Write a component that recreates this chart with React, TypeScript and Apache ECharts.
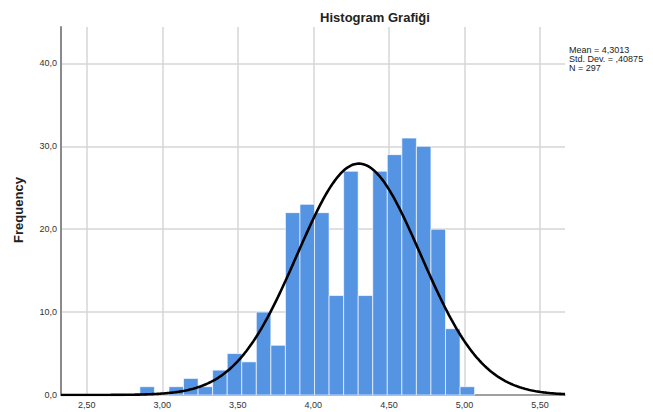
import React, { useEffect, useRef } from "react";
import * as echarts from "echarts";

// Histogram bins
const binStart = 2.852;
const binWidth = 0.0963;
const binCounts = [1, 0, 1, 2, 1, 3, 5, 4, 10, 6, 22, 23, 22, 12, 27, 12, 27, 29, 31, 30, 20, 8, 1];

// Summary statistics shown on the chart
const meanValue = 4.3013;
const stdDev = 0.40875;
const nValue = 297;

// Axis ticks
const xTicks = [2.5, 3.0, 3.5, 4.0, 4.5, 5.0, 5.5];
const yTicks = [0, 10, 20, 30, 40];
const xMin = 2.33;
const xMax = 5.665;
const yMax = 44.4;

const statLines = ["Mean = 4,3013", "Std. Dev. = ,40875", "N = 297"];

const FONT = "'Liberation Sans', Arial, sans-serif";

export default function App() {
  const ref = useRef<HTMLDivElement>(null);
  useEffect(() => {
    document.body.style.margin = "0";
    if (!ref.current) return;
    const chart = echarts.init(ref.current, null, { renderer: "svg" });

    const bars = binCounts.map((c, i) => [
      binStart + i * binWidth,
      binStart + (i + 1) * binWidth,
      c,
    ]);

    // Fitted normal curve from the stated mean, std. dev. and N
    const curve: number[][] = [];
    const scale = nValue * binWidth;
    for (let k = 0; k <= 400; k++) {
      const x = xMin + ((xMax - xMin) * k) / 400;
      const z = (x - meanValue) / stdDev;
      const y = (scale / (stdDev * Math.sqrt(2 * Math.PI))) * Math.exp(-0.5 * z * z);
      curve.push([x, y]);
    }

    chart.setOption({
      animation: false,
      grid: { left: 61, right: 88, top: 27, bottom: 17, containLabel: false },
      xAxis: {
        type: "value",
        min: xMin,
        max: xMax,
        axisLine: { show: true, onZero: false, lineStyle: { color: "#8a8a8a", width: 1.5 } },
        axisTick: { show: false, customValues: xTicks },
        axisLabel: {
          customValues: xTicks,
          formatter: (v: number) => v.toFixed(2).replace(".", ","),
          color: "#333",
          fontSize: 9,
          fontFamily: FONT,
          margin: 5,
        },
        splitLine: { show: true, lineStyle: { color: "#d6d6d6", width: 1.5 } },
      },
      yAxis: {
        type: "value",
        min: 0,
        max: yMax,
        axisLine: { show: true, lineStyle: { color: "#8a8a8a", width: 2 } },
        axisTick: { show: false, customValues: yTicks },
        axisLabel: {
          customValues: yTicks,
          formatter: (v: number) => v.toFixed(1).replace(".", ","),
          color: "#333",
          fontSize: 9,
          fontFamily: FONT,
          margin: 4,
        },
        splitLine: { show: true, lineStyle: { color: "#d6d6d6", width: 1.5 } },
      },
      series: [
        {
          type: "custom",
          data: bars,
          encode: { x: [0, 1], y: 2 },
          z: 2,
          renderItem: (params: any, api: any) => {
            const x0 = api.value(0);
            const x1 = api.value(1);
            const c = api.value(2);
            const p0 = api.coord([x0, c]);
            const p1 = api.coord([x1, 0]);
            return {
              type: "rect",
              shape: { x: p0[0], y: p0[1], width: p1[0] - p0[0], height: p1[1] - p0[1] },
              style: { fill: "#5593e3", stroke: "rgba(255,255,255,0.65)", lineWidth: 1 },
            };
          },
        },
        {
          type: "line",
          data: curve,
          showSymbol: false,
          smooth: false,
          z: 3,
          lineStyle: { color: "#000", width: 2.6 },
        },
      ],
      graphic: [
        {
          type: "text",
          x: 375,
          y: 17,
          style: {
            text: "Histogram Grafiği",
            font: `bold 13px ${FONT}`,
            fill: "#222",
            align: "center",
            verticalAlign: "middle",
          },
        },
        {
          type: "text",
          x: 18,
          y: 210,
          rotation: Math.PI / 2,
          style: {
            text: "Frequency",
            font: `bold 13px ${FONT}`,
            fill: "#222",
            align: "center",
            verticalAlign: "middle",
          },
        },
        ...statLines.map((t, i) => ({
          type: "text",
          x: 569,
          y: 50 + i * 9,
          style: {
            text: t,
            font: `9px ${FONT}`,
            fill: "#222",
            align: "left",
            verticalAlign: "middle",
          },
        })),
      ],
    });
    return () => chart.dispose();
  }, []);
  return <div ref={ref} style={{ width: 653, height: 412 }} />;
}
